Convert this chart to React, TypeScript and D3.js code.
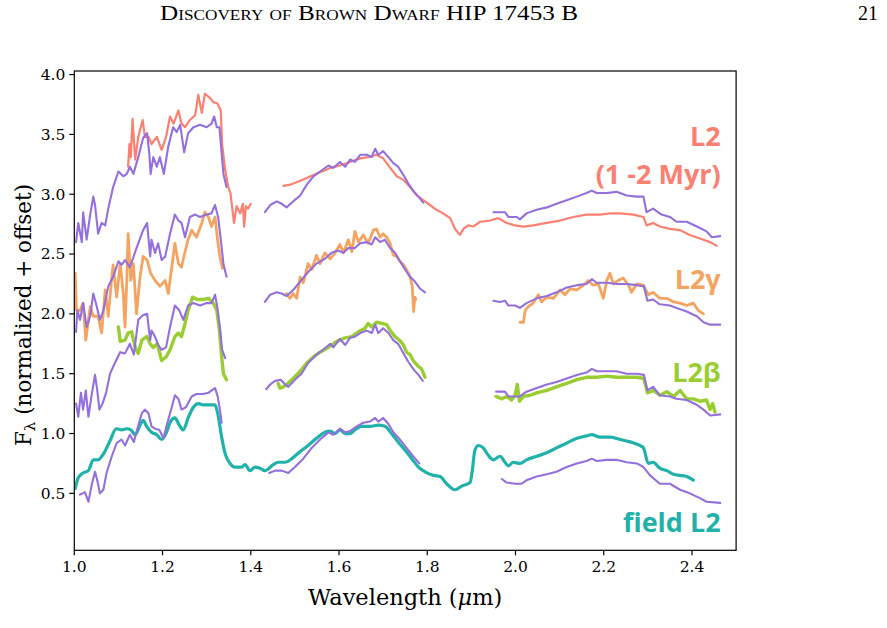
import * as d3 from "d3";

type Pt = [number, number];

const wlTicks = [1.0, 1.2, 1.4, 1.6, 1.8, 2.0, 2.2, 2.4];
const fluxTicks = [0.5, 1.0, 1.5, 2.0, 2.5, 3.0, 3.5, 4.0];

// young L2 (1-2 Myr) template
const youngJ: Pt[] = [[1.122,3.23],[1.125,3.42],[1.128,3.31],[1.132,3.63],[1.138,3.29],[1.145,3.48],[1.155,3.62],[1.16,3.48],[1.168,3.48],[1.175,3.42],[1.187,3.48],[1.198,3.37],[1.208,3.48],[1.217,3.65],[1.225,3.59],[1.236,3.70],[1.243,3.59],[1.251,3.56],[1.262,3.62],[1.274,3.66],[1.281,3.83],[1.289,3.68],[1.296,3.84],[1.306,3.81],[1.315,3.77],[1.324,3.76],[1.332,3.70],[1.335,3.42],[1.342,3.20],[1.349,3.06],[1.354,3.01],[1.359,2.85],[1.362,2.76],[1.368,2.90],[1.376,2.84],[1.382,2.92],[1.385,2.73],[1.389,2.90],[1.394,2.88],[1.40,2.92]];
const youngHK: Pt[] = [[1.474,3.07],[1.489,3.08],[1.504,3.10],[1.523,3.13],[1.542,3.16],[1.561,3.19],[1.58,3.22],[1.602,3.24],[1.625,3.27],[1.648,3.30],[1.666,3.31],[1.685,3.33],[1.70,3.30],[1.716,3.22],[1.731,3.15],[1.746,3.12],[1.761,3.06],[1.776,2.99],[1.791,2.95],[1.806,2.91],[1.821,2.87],[1.836,2.84],[1.852,2.80],[1.863,2.71],[1.874,2.66],[1.882,2.71],[1.893,2.74],[1.904,2.73],[1.92,2.77],[1.942,2.78],[1.961,2.80],[1.98,2.76],[1.999,2.74],[2.018,2.73],[2.04,2.74],[2.071,2.76],[2.101,2.78],[2.131,2.81],[2.161,2.83],[2.192,2.83],[2.214,2.84],[2.237,2.84],[2.267,2.83],[2.29,2.81],[2.297,2.74],[2.312,2.76],[2.327,2.73],[2.35,2.71],[2.373,2.70],[2.395,2.66],[2.418,2.63],[2.441,2.60],[2.456,2.57]];

// L2 gamma template
const gammaJ: Pt[] = [[1.002,2.34],[1.005,2.03],[1.013,2.03],[1.02,2.09],[1.026,1.78],[1.036,2.06],[1.043,1.98],[1.054,1.98],[1.062,1.84],[1.07,2.20],[1.077,1.98],[1.085,2.31],[1.088,2.41],[1.096,2.14],[1.104,2.42],[1.111,2.17],[1.115,1.89],[1.119,2.28],[1.122,2.67],[1.128,2.28],[1.134,2.42],[1.141,2.00],[1.149,2.31],[1.156,2.48],[1.165,2.45],[1.173,2.34],[1.183,2.28],[1.194,2.23],[1.206,2.28],[1.213,2.17],[1.221,2.39],[1.228,2.59],[1.236,2.42],[1.243,2.39],[1.249,2.49],[1.258,2.62],[1.266,2.70],[1.277,2.64],[1.289,2.76],[1.296,2.85],[1.304,2.81],[1.311,2.73],[1.319,2.81],[1.324,2.64],[1.33,2.48],[1.336,2.38]];
const gammaH: Pt[] = [[1.481,2.17],[1.489,2.13],[1.496,2.17],[1.504,2.13],[1.512,2.31],[1.519,2.26],[1.53,2.42],[1.538,2.37],[1.549,2.49],[1.557,2.42],[1.568,2.51],[1.58,2.46],[1.591,2.51],[1.602,2.58],[1.61,2.51],[1.621,2.62],[1.629,2.52],[1.636,2.69],[1.644,2.60],[1.655,2.66],[1.666,2.59],[1.678,2.70],[1.685,2.71],[1.693,2.64],[1.70,2.67],[1.708,2.64],[1.716,2.59],[1.723,2.49],[1.731,2.48],[1.738,2.44],[1.746,2.41],[1.753,2.37],[1.761,2.31],[1.766,2.23],[1.769,2.02],[1.772,2.14],[1.774,2.12]];
const gammaK: Pt[] = [[2.01,1.93],[2.018,1.93],[2.022,2.03],[2.029,2.06],[2.04,2.09],[2.052,2.16],[2.059,2.10],[2.071,2.14],[2.086,2.13],[2.101,2.20],[2.112,2.16],[2.124,2.21],[2.139,2.20],[2.154,2.24],[2.165,2.28],[2.176,2.24],[2.188,2.25],[2.199,2.13],[2.207,2.28],[2.214,2.34],[2.222,2.25],[2.233,2.28],[2.244,2.30],[2.256,2.24],[2.263,2.18],[2.275,2.25],[2.29,2.24],[2.301,2.16],[2.312,2.18],[2.327,2.13],[2.343,2.13],[2.358,2.10],[2.373,2.09],[2.388,2.07],[2.403,2.09],[2.414,2.03],[2.426,2.00]];

// L2 beta template
const betaJ: Pt[] = [[1.10,1.89],[1.104,1.77],[1.115,1.78],[1.122,1.84],[1.13,1.85],[1.138,1.72],[1.145,1.67],[1.153,1.78],[1.164,1.81],[1.172,1.75],[1.179,1.72],[1.188,1.75],[1.198,1.61],[1.208,1.64],[1.217,1.70],[1.228,1.81],[1.236,1.84],[1.243,1.81],[1.251,1.92],[1.258,2.03],[1.268,2.14],[1.279,2.12],[1.292,2.12],[1.304,2.13],[1.315,2.09],[1.323,2.03],[1.329,1.86],[1.334,1.64],[1.338,1.50],[1.345,1.45]];
const betaH: Pt[] = [[1.462,1.42],[1.466,1.38],[1.474,1.39],[1.481,1.41],[1.496,1.46],[1.512,1.52],[1.527,1.59],[1.542,1.64],[1.557,1.68],[1.576,1.72],[1.595,1.77],[1.614,1.80],[1.629,1.81],[1.644,1.85],[1.659,1.88],[1.666,1.92],[1.674,1.89],[1.685,1.93],[1.697,1.92],[1.708,1.91],[1.716,1.86],[1.727,1.81],[1.737,1.78],[1.746,1.74],[1.753,1.68],[1.761,1.66],[1.768,1.61],[1.78,1.56],[1.787,1.54],[1.795,1.47]];
const betaK: Pt[] = [[1.956,1.31],[1.969,1.29],[1.98,1.31],[1.991,1.28],[1.999,1.32],[2.004,1.41],[2.009,1.27],[2.018,1.31],[2.033,1.32],[2.048,1.34],[2.071,1.36],[2.093,1.39],[2.116,1.42],[2.139,1.45],[2.161,1.47],[2.184,1.47],[2.207,1.48],[2.229,1.47],[2.252,1.47],[2.275,1.47],[2.291,1.46],[2.299,1.34],[2.312,1.36],[2.327,1.32],[2.343,1.35],[2.358,1.31],[2.373,1.36],[2.388,1.29],[2.403,1.29],[2.418,1.27],[2.433,1.28],[2.441,1.20],[2.447,1.25],[2.452,1.18]];

// field L2 template, one continuous smoothed spectrum
const fieldL2: Pt[] = [[1.002,0.54],[1.009,0.63],[1.02,0.67],[1.032,0.69],[1.043,0.78],[1.054,0.78],[1.066,0.83],[1.081,0.94],[1.095,1.04],[1.107,1.03],[1.119,1.04],[1.128,1.03],[1.138,0.99],[1.149,1.07],[1.156,1.11],[1.164,1.06],[1.175,1.01],[1.187,0.99],[1.198,0.95],[1.209,1.01],[1.218,1.10],[1.228,1.13],[1.238,1.07],[1.247,1.03],[1.258,1.13],[1.27,1.22],[1.281,1.25],[1.292,1.24],[1.308,1.24],[1.319,1.24],[1.326,1.15],[1.334,0.97],[1.342,0.83],[1.353,0.75],[1.364,0.72],[1.379,0.72],[1.387,0.74],[1.398,0.69],[1.41,0.72],[1.421,0.71],[1.432,0.69],[1.451,0.74],[1.462,0.76],[1.478,0.76],[1.493,0.79],[1.512,0.85],[1.53,0.90],[1.549,0.96],[1.568,1.01],[1.58,1.02],[1.591,1.00],[1.602,1.03],[1.614,1.00],[1.625,1.00],[1.636,1.03],[1.651,1.06],[1.67,1.06],[1.689,1.07],[1.704,1.06],[1.719,1.00],[1.734,0.93],[1.75,0.86],[1.765,0.79],[1.78,0.72],[1.795,0.68],[1.814,0.65],[1.829,0.64],[1.844,0.58],[1.863,0.53],[1.878,0.56],[1.897,0.59],[1.902,0.69],[1.908,0.86],[1.916,0.90],[1.927,0.88],[1.938,0.82],[1.95,0.78],[1.965,0.81],[1.976,0.76],[1.984,0.73],[1.995,0.76],[2.01,0.75],[2.025,0.78],[2.048,0.81],[2.071,0.84],[2.093,0.88],[2.116,0.92],[2.139,0.96],[2.161,0.98],[2.173,0.99],[2.192,0.97],[2.214,0.97],[2.237,0.95],[2.26,0.93],[2.282,0.90],[2.29,0.88],[2.301,0.75],[2.312,0.76],[2.327,0.71],[2.343,0.69],[2.358,0.66],[2.373,0.65],[2.388,0.64],[2.403,0.61]];

// HIP 17453 B, offset to each template
const objYoungJ: Pt[] = [[1.004,2.60],[1.009,2.76],[1.017,2.60],[1.02,2.85],[1.028,2.62],[1.036,2.83],[1.043,2.98],[1.047,2.91],[1.054,2.67],[1.062,2.76],[1.07,2.74],[1.077,2.88],[1.088,3.06],[1.10,3.19],[1.111,3.15],[1.119,3.17],[1.126,3.23],[1.134,3.17],[1.145,3.31],[1.156,3.47],[1.165,3.51],[1.17,3.34],[1.173,3.17],[1.179,3.31],[1.187,3.23],[1.194,3.31],[1.203,3.17],[1.213,3.40],[1.224,3.56],[1.232,3.52],[1.24,3.58],[1.249,3.35],[1.258,3.51],[1.27,3.56],[1.285,3.58],[1.30,3.56],[1.311,3.59],[1.317,3.65],[1.323,3.56],[1.329,3.56],[1.334,3.34],[1.338,3.17],[1.345,3.06]];
const objYoungH: Pt[] = [[1.432,2.85],[1.444,2.91],[1.459,2.94],[1.47,2.92],[1.481,2.89],[1.496,2.94],[1.512,2.99],[1.527,3.08],[1.542,3.15],[1.557,3.19],[1.576,3.24],[1.587,3.22],[1.602,3.27],[1.614,3.23],[1.625,3.29],[1.636,3.27],[1.648,3.33],[1.663,3.33],[1.674,3.31],[1.682,3.38],[1.689,3.33],[1.70,3.36],[1.712,3.31],[1.723,3.26],[1.734,3.23],[1.746,3.16],[1.757,3.09],[1.768,3.03],[1.78,2.98],[1.791,2.93]];
const objYoungK: Pt[] = [[1.95,2.85],[1.976,2.85],[1.984,2.81],[2.003,2.81],[2.01,2.79],[2.025,2.84],[2.048,2.87],[2.071,2.89],[2.093,2.92],[2.116,2.95],[2.139,2.98],[2.161,3.01],[2.173,3.03],[2.184,3.01],[2.207,3.01],[2.229,3.02],[2.252,2.99],[2.275,2.98],[2.29,2.98],[2.297,2.85],[2.312,2.88],[2.331,2.83],[2.35,2.81],[2.365,2.77],[2.388,2.77],[2.411,2.73],[2.433,2.69],[2.445,2.64],[2.464,2.65]];

const objGammaJ: Pt[] = [[1.004,1.85],[1.007,2.03],[1.013,1.95],[1.02,2.09],[1.028,1.89],[1.036,1.98],[1.043,2.17],[1.051,2.06],[1.058,1.95],[1.066,2.03],[1.077,2.23],[1.088,2.31],[1.10,2.44],[1.107,2.41],[1.115,2.45],[1.126,2.39],[1.141,2.55],[1.156,2.70],[1.165,2.76],[1.172,2.48],[1.175,2.62],[1.183,2.51],[1.19,2.59],[1.198,2.45],[1.206,2.48],[1.217,2.67],[1.228,2.83],[1.236,2.78],[1.243,2.76],[1.251,2.64],[1.262,2.81],[1.274,2.83],[1.285,2.81],[1.30,2.83],[1.311,2.84],[1.319,2.91],[1.326,2.81],[1.332,2.62],[1.338,2.42],[1.345,2.31]];
const objGammaH: Pt[] = [[1.432,2.10],[1.444,2.16],[1.459,2.18],[1.47,2.17],[1.481,2.15],[1.496,2.20],[1.512,2.27],[1.53,2.35],[1.549,2.42],[1.568,2.46],[1.583,2.51],[1.598,2.53],[1.61,2.51],[1.621,2.55],[1.636,2.55],[1.648,2.59],[1.663,2.60],[1.674,2.58],[1.682,2.64],[1.693,2.60],[1.704,2.62],[1.716,2.55],[1.727,2.51],[1.738,2.44],[1.75,2.37],[1.761,2.31],[1.772,2.27],[1.784,2.21],[1.795,2.18]];
const objGammaK: Pt[] = [[1.95,2.11],[1.965,2.10],[1.976,2.11],[1.984,2.07],[1.999,2.07],[2.01,2.05],[2.025,2.09],[2.048,2.13],[2.071,2.15],[2.093,2.18],[2.116,2.22],[2.139,2.24],[2.161,2.25],[2.173,2.29],[2.184,2.26],[2.207,2.26],[2.229,2.25],[2.252,2.25],[2.275,2.24],[2.291,2.23],[2.299,2.11],[2.312,2.12],[2.327,2.08],[2.35,2.07],[2.365,2.05],[2.388,2.02],[2.411,1.98],[2.426,1.93],[2.441,1.91],[2.464,1.91]];

const objBetaJ: Pt[] = [[1.004,1.25],[1.009,1.14],[1.015,1.34],[1.02,1.20],[1.026,1.36],[1.032,1.14],[1.04,1.34],[1.047,1.49],[1.052,1.36],[1.057,1.20],[1.064,1.25],[1.072,1.34],[1.081,1.50],[1.092,1.59],[1.104,1.68],[1.115,1.67],[1.126,1.75],[1.135,1.66],[1.145,1.95],[1.156,1.99],[1.165,2.00],[1.172,1.78],[1.175,1.86],[1.183,1.81],[1.19,1.74],[1.198,1.70],[1.208,1.72],[1.217,1.89],[1.228,2.07],[1.238,2.03],[1.247,1.95],[1.258,2.07],[1.27,2.09],[1.285,2.07],[1.30,2.09],[1.311,2.09],[1.319,2.16],[1.324,2.06],[1.33,1.89],[1.335,1.70],[1.342,1.63]];
const objBetaH: Pt[] = [[1.435,1.37],[1.444,1.41],[1.455,1.44],[1.468,1.45],[1.478,1.41],[1.485,1.39],[1.50,1.45],[1.515,1.50],[1.53,1.59],[1.549,1.66],[1.564,1.70],[1.58,1.75],[1.587,1.72],[1.602,1.79],[1.614,1.74],[1.625,1.80],[1.636,1.81],[1.648,1.84],[1.663,1.86],[1.674,1.84],[1.682,1.91],[1.689,1.84],[1.70,1.88],[1.712,1.84],[1.723,1.78],[1.734,1.75],[1.746,1.67],[1.757,1.60],[1.768,1.54],[1.78,1.49],[1.79,1.44]];
const objBetaK: Pt[] = [[1.956,1.35],[1.976,1.35],[1.984,1.31],[1.999,1.31],[2.01,1.31],[2.025,1.35],[2.048,1.38],[2.071,1.41],[2.093,1.43],[2.116,1.46],[2.139,1.49],[2.161,1.51],[2.173,1.54],[2.184,1.52],[2.207,1.52],[2.229,1.52],[2.252,1.50],[2.275,1.50],[2.291,1.49],[2.299,1.36],[2.312,1.39],[2.327,1.32],[2.35,1.31],[2.365,1.29],[2.388,1.28],[2.411,1.24],[2.426,1.20],[2.441,1.15],[2.464,1.16]];

const objFieldJ: Pt[] = [[1.013,0.49],[1.019,0.50],[1.024,0.51],[1.032,0.43],[1.04,0.58],[1.047,0.68],[1.052,0.61],[1.058,0.50],[1.066,0.53],[1.073,0.67],[1.085,0.81],[1.096,0.92],[1.107,0.95],[1.115,0.90],[1.126,0.99],[1.135,0.93],[1.143,1.04],[1.153,1.17],[1.16,1.20],[1.168,1.17],[1.175,1.06],[1.183,1.04],[1.193,1.03],[1.202,0.96],[1.211,1.09],[1.221,1.22],[1.228,1.32],[1.236,1.29],[1.243,1.20],[1.253,1.22],[1.266,1.31],[1.277,1.33],[1.292,1.33],[1.304,1.34],[1.311,1.36],[1.319,1.38],[1.325,1.31],[1.33,1.20],[1.334,1.09]];
const objFieldH: Pt[] = [[1.442,0.67],[1.455,0.69],[1.47,0.69],[1.485,0.67],[1.50,0.72],[1.519,0.79],[1.538,0.88],[1.557,0.95],[1.576,1.01],[1.587,0.99],[1.602,1.04],[1.614,1.01],[1.625,1.02],[1.64,1.06],[1.655,1.09],[1.67,1.10],[1.682,1.13],[1.689,1.10],[1.70,1.13],[1.712,1.08],[1.723,1.01],[1.738,0.95],[1.753,0.88],[1.768,0.81],[1.782,0.75]];
const objFieldK: Pt[] = [[1.969,0.62],[1.98,0.59],[1.999,0.58],[2.014,0.58],[2.025,0.61],[2.048,0.64],[2.071,0.66],[2.093,0.68],[2.116,0.72],[2.139,0.75],[2.161,0.77],[2.173,0.79],[2.184,0.77],[2.207,0.78],[2.229,0.78],[2.252,0.76],[2.275,0.75],[2.29,0.72],[2.305,0.65],[2.327,0.58],[2.35,0.58],[2.373,0.53],[2.395,0.50],[2.418,0.46],[2.433,0.43],[2.464,0.42]];

const labels = [
  { text: "L2", color: "#FA8072", y: 3.40 },
  { text: "(1 -2 Myr)", color: "#FA8072", y: 3.085 },
  { text: "L2\u03b3", color: "#F4A460", y: 2.21 },
  { text: "L2\u03b2", color: "#9ACD32", y: 1.43 },
  { text: "field L2", color: "#20B2AA", y: 0.18 },
];

const W = 887;
const H = 628;
const PURPLE = "#9370DB";

export default function App() {
  const x = d3.scaleLinear().domain([1.0, 2.5]).range([74.3, 736.1]);
  const y = d3.scaleLinear().domain([0.024, 4.03]).range([550.3, 71]);

  const line = d3
    .line<Pt>()
    .x(d => x(d[0]))
    .y(d => y(d[1]));
  const smooth = d3
    .line<Pt>()
    .x(d => x(d[0]))
    .y(d => y(d[1]))
    .curve(d3.curveMonotoneX);

  const templates = [
    { data: youngJ, color: "#FA8072", w: 2.2 },
    { data: youngHK, color: "#FA8072", w: 2.2 },
    { data: gammaJ, color: "#F4A460", w: 2.8 },
    { data: gammaH, color: "#F4A460", w: 2.8 },
    { data: gammaK, color: "#F4A460", w: 2.8 },
    { data: betaJ, color: "#9ACD32", w: 3.4 },
    { data: betaH, color: "#9ACD32", w: 3.4 },
    { data: betaK, color: "#9ACD32", w: 3.4 },
  ];
  const object = [
    objYoungJ, objYoungH, objYoungK,
    objGammaJ, objGammaH, objGammaK,
    objBetaJ, objBetaH, objBetaK,
    objFieldJ, objFieldH, objFieldK,
  ];

  const [x0, x1] = x.range();
  const [yb, yt] = y.range();
  const serif = "'DejaVu Serif', serif";
  const texSerif = "'Liberation Serif', serif";

  return (
    <svg
      width={W}
      height={H}
      viewBox={`0 0 ${W} ${H}`}
      style={{ position: "absolute", left: 0, top: 0, background: "#fff" }}
    >
      <text
        x={369}
        y={20}
        textAnchor="middle"
        fontFamily={texSerif}
        fontSize={20.5}
        textLength={418}
        lengthAdjust="spacingAndGlyphs"
        style={{ fontVariant: "small-caps" }}
      >
        Discovery of Brown Dwarf HIP 17453 B
      </text>
      <text x={878} y={20} textAnchor="end" fontFamily={texSerif} fontSize={20}>
        21
      </text>

      <defs>
        <clipPath id="plot">
          <rect x={x0} y={yt} width={x1 - x0} height={yb - yt} />
        </clipPath>
      </defs>

      <g clipPath="url(#plot)" fill="none" strokeLinejoin="round" strokeLinecap="round">
        {templates.map((s, i) => (
          <path key={i} d={line(s.data) ?? ""} stroke={s.color} strokeWidth={s.w} />
        ))}
        <path d={smooth(fieldL2) ?? ""} stroke="#20B2AA" strokeWidth={3.2} />
        {object.map((s, i) => (
          <path key={i} d={line(s) ?? ""} stroke={PURPLE} strokeWidth={2.1} />
        ))}
      </g>

      {labels.map(l => (
        <text
          key={l.text}
          x={x(2.465)}
          y={y(l.y)}
          textAnchor="end"
          fill={l.color}
          fontFamily="'Open Sans', sans-serif"
          fontWeight={700}
          fontSize={27}
        >
          {l.text}
        </text>
      ))}

      <rect x={x0} y={yt} width={x1 - x0} height={yb - yt} fill="none" stroke="#000" strokeWidth={1.2} />

      {wlTicks.map(t => (
        <g key={t} transform={`translate(${x(t)},${yb})`}>
          <line y2={5} stroke="#000" strokeWidth={1.2} />
          <text y={22} textAnchor="middle" fontFamily={serif} fontSize={15.5}>
            {t.toFixed(1)}
          </text>
        </g>
      ))}
      {fluxTicks.map(t => (
        <g key={t} transform={`translate(${x0},${y(t)})`}>
          <line x2={-5} stroke="#000" strokeWidth={1.2} />
          <text x={-9} dy="0.35em" textAnchor="end" fontFamily={serif} fontSize={15.5}>
            {t.toFixed(1)}
          </text>
        </g>
      ))}

      <text x={(x0 + x1) / 2} y={605} textAnchor="middle" fontFamily={serif} fontSize={22.5}>
        Wavelength (<tspan fontStyle="italic">{"\u03bc"}</tspan>m)
      </text>
      <text
        transform={`translate(31,315) rotate(-90)`}
        textAnchor="middle"
        fontFamily={serif}
        fontSize={21.5}
      >
        F<tspan fontSize={15} dy={4}>{"\u03bb"}</tspan>
        <tspan dy={-4}> (normalized + offset)</tspan>
      </text>
    </svg>
  );
}
